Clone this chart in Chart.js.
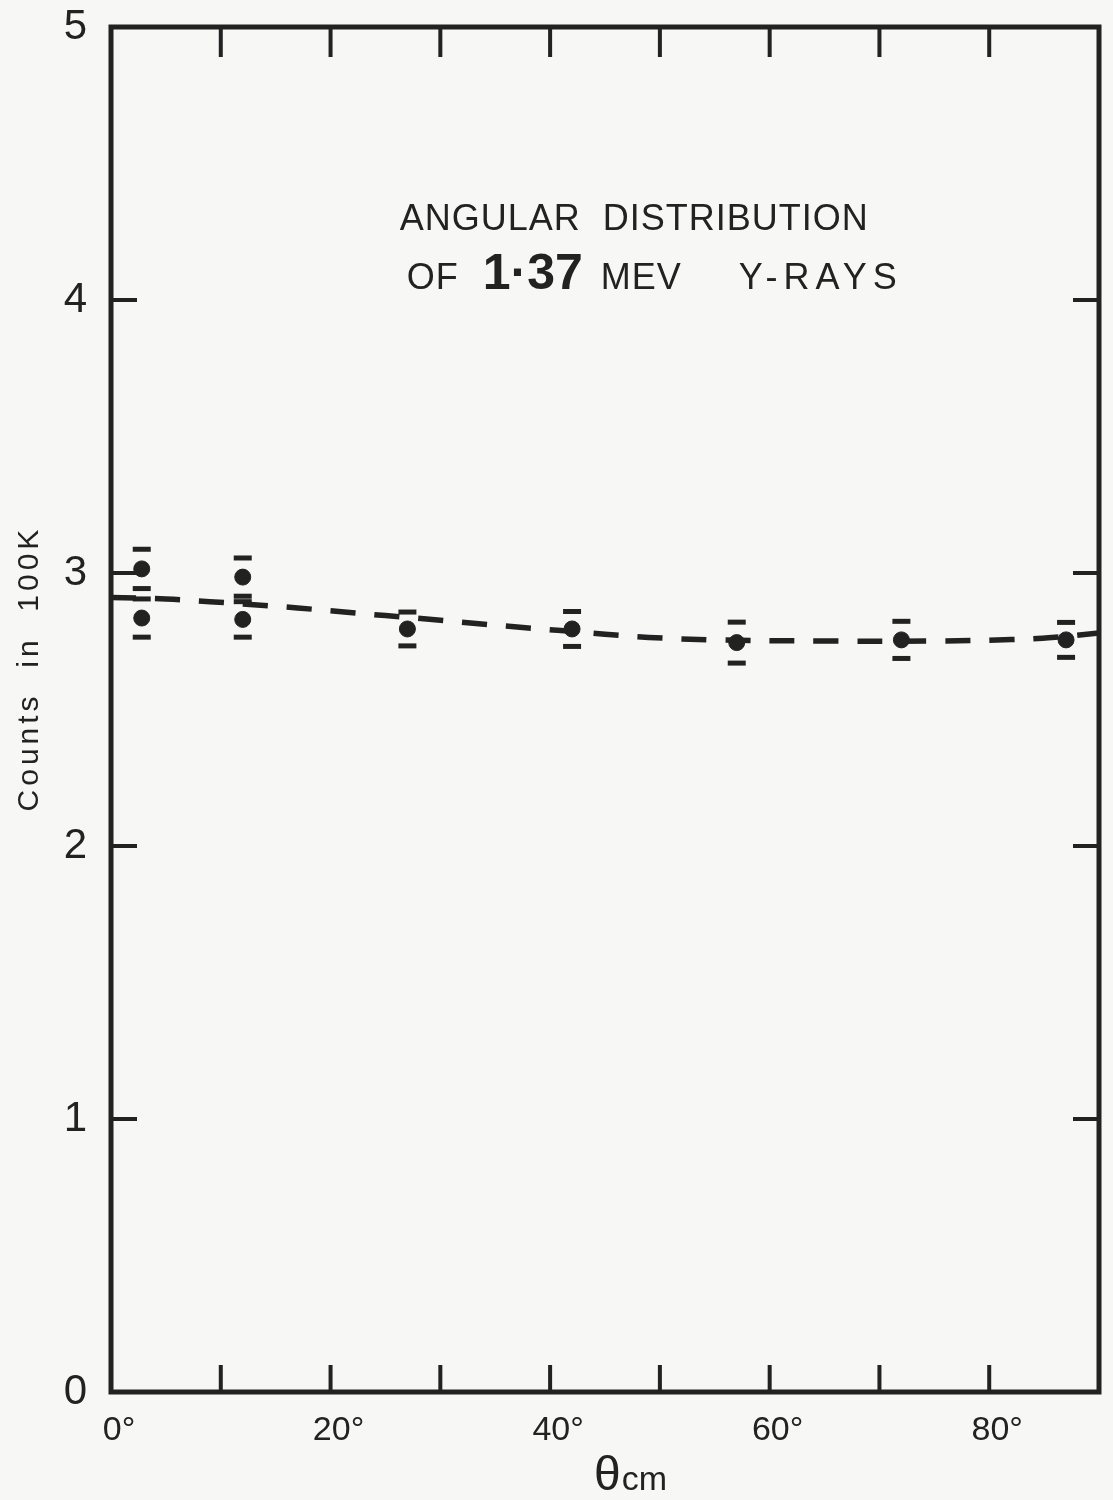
<!DOCTYPE html>
<html>
<head>
<meta charset="utf-8">
<script src="https://cdn.jsdelivr.net/npm/chart.js@4.4.1/dist/chart.umd.min.js"></script>
<style>
  html, body { margin: 0; padding: 0; background: #f7f7f5; }
  #wrap { width: 1113px; height: 1500px; position: relative; }
</style>
</head>
<body>
<div id="wrap"><canvas id="chart"></canvas></div>
<script>
// measured points: angle (cm, degrees) and counts in units of 100K
var angles = [2.8, 2.8, 12, 12, 27, 42, 57, 72, 87]
var counts = [3.015, 2.835, 2.985, 2.83, 2.795, 2.795, 2.745, 2.755, 2.755]
var errors = [0.072, 0.07, 0.07, 0.065, 0.062, 0.064, 0.075, 0.068, 0.064]

// dashed curve
var fitAngles = [0, 5, 9, 13, 17, 21, 25, 29, 33, 37, 41, 45, 49, 55, 65, 75, 82, 86, 90]
var fitCounts = [2.91, 2.905, 2.895, 2.884, 2.872, 2.858, 2.844, 2.831, 2.816, 2.802, 2.789, 2.776, 2.764, 2.755, 2.751, 2.751, 2.756, 2.765, 2.78]

var xTickValues = [0, 10, 20, 30, 40, 50, 60, 70, 80, 90]
var xTickLabels = ['0°', '', '20°', '', '40°', '', '60°', '', '80°', '']
var yTickValues = [0, 1, 2, 3, 4, 5]
var yTickLabels = ['0', '1', '2', '3', '4', '5']

var ink = '#222222'
var FONT = '"Liberation Sans", Arial, sans-serif'

function pts(xs, ys) {
  return xs.map((x, i) => ({ x: x, y: ys[i] }))
}

// frame round the plot with inward ticks
var frame = {
  id: 'frame',
  afterDraw(chart) {
    var c = chart.ctx, a = chart.chartArea
    var xs = chart.scales.x, ys = chart.scales.y
    c.save()
    c.strokeStyle = ink
    c.lineWidth = 5
    c.lineJoin = 'miter'
    c.strokeRect(a.left, a.top, a.right - a.left, a.bottom - a.top)
    c.lineWidth = 4
    c.beginPath()
    xTickValues.slice(1, -1).forEach(v => {
      var px = xs.getPixelForValue(v)
      c.moveTo(px, a.bottom); c.lineTo(px, a.bottom - 27)
      c.moveTo(px, a.top); c.lineTo(px, a.top + 30)
    })
    yTickValues.slice(1, -1).forEach(v => {
      var py = ys.getPixelForValue(v)
      c.moveTo(a.left, py); c.lineTo(a.left + 26, py)
      c.moveTo(a.right, py); c.lineTo(a.right - 26, py)
    })
    c.stroke()
    c.restore()
  }
}

// lettering: caption, axis titles
var lettering = {
  id: 'lettering',
  afterDraw(chart) {
    var c = chart.ctx
    var xs = chart.scales.x, ys = chart.scales.y
    c.save()
    c.fillStyle = ink
    c.textBaseline = 'alphabetic'
    c.textAlign = 'left'

    var x0 = xs.getPixelForValue(26.3)
    c.font = '36px ' + FONT
    c.letterSpacing = '1px'
    c.fillText('ANGULAR  DISTRIBUTION', x0, ys.getPixelForValue(4.255))
    var b2 = ys.getPixelForValue(4.04)
    c.fillText('OF', x0 + 7, b2)
    c.font = 'bold 50px ' + FONT
    c.letterSpacing = '0px'
    c.fillText('1·37', x0 + 83, b2)
    c.font = '36px ' + FONT
    c.letterSpacing = '1px'
    c.fillText('MEV', x0 + 201, b2)
    c.letterSpacing = '6px'
    c.fillText('Y-RAYS', x0 + 339, b2)

    // x title
    var tx = xs.getPixelForValue(44)
    c.letterSpacing = '0px'
    c.font = '48px ' + FONT
    c.fillText('θ', tx, 1490)
    var w = c.measureText('θ').width
    c.font = '34px ' + FONT
    c.fillText('cm', tx + w + 1, 1490)

    // y title
    c.translate(38, ys.getPixelForValue(2.65))
    c.rotate(-Math.PI / 2)
    c.textAlign = 'center'
    c.font = '30px ' + FONT
    c.letterSpacing = '4px'
    c.fillText('Counts  in  100K', 0, 0)
    c.restore()
  }
}

new Chart(document.getElementById('chart').getContext('2d'), {
  type: 'scatter',
  data: {
    datasets: [
      { type: 'line', label: 'fit', data: pts(fitAngles, fitCounts),
        borderColor: ink, borderWidth: 5.5, borderDash: [25, 19],
        pointRadius: 0, tension: 0.4, fill: false }
    , { label: 'counts', data: pts(angles, counts),
        pointRadius: 8, backgroundColor: ink, borderColor: ink, borderWidth: 1 }
    , { label: 'upper', data: pts(angles, counts.map((v, i) => v + errors[i])),
        pointStyle: 'line', pointRadius: 9, borderWidth: 5, borderColor: ink }
    , { label: 'lower', data: pts(angles, counts.map((v, i) => v - errors[i])),
        pointStyle: 'line', pointRadius: 9, borderWidth: 5, borderColor: ink }
    ]
  },
  options: {
    responsive: true,
    maintainAspectRatio: false,
    animation: false,
    layout: { padding: { top: 27, right: 7, left: 0, bottom: 0 } },
    plugins: { legend: { display: false }, tooltip: { enabled: false } },
    scales: {
      x: {
        type: 'linear', min: 0, max: 90,
        grid: { display: false }, border: { display: false },
        afterBuildTicks: s => { s.ticks = xTickValues.map(v => ({ value: v })) },
        afterFit: s => { s.height = 108; s.paddingLeft = 0; s.paddingRight = 0 },
        ticks: {
          callback: (v, i) => xTickLabels[i],
          autoSkip: false, maxRotation: 0, padding: 10, labelOffset: 8,
          color: ink, font: { family: FONT, size: 34 }
        }
      },
      y: {
        type: 'linear', min: 0, max: 5,
        grid: { display: false }, border: { display: false },
        afterBuildTicks: s => { s.ticks = yTickValues.map(v => ({ value: v })) },
        afterFit: s => { s.width = 111; s.paddingTop = 0; s.paddingBottom = 0 },
        ticks: {
          callback: (v, i) => yTickLabels[i],
          padding: 16, color: ink, font: { family: FONT, size: 42 }
        }
      }
    }
  },
  plugins: [frame, lettering]
})
</script>
</body>
</html>
